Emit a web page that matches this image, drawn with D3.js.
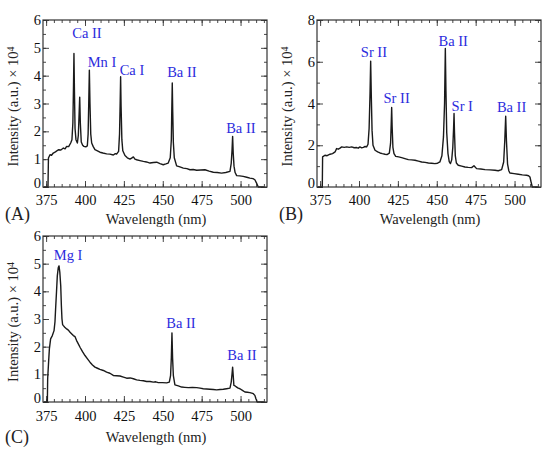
<!DOCTYPE html>
<html>
<head>
<meta charset="utf-8">
<script src="https://cdn.jsdelivr.net/npm/d3@7"></script>
<style>
  body { margin: 0; background: #fff; }
  svg text { font-family: "Liberation Serif", "Times New Roman", "DejaVu Serif", serif; }
</style>
</head>
<body>
<div id="chart"></div>
<script>
// spectra: [wavelength nm, intensity x 10^4]
var specA = [[373.5,0],[376.2,0],[376.5,1.04],[377.5,1.16],[378.5,1.14],[379.6,1.22],[381,1.26],[382.9,1.34],[384.5,1.33],[386.1,1.4],[387.2,1.37],[388.2,1.46],[389.5,1.45],[390.8,1.58],[391.6,1.7],[392.2,2.3],[392.6,3.6],[392.9,4.8],[393.2,3.5],[393.6,2.1],[394.2,1.7],[395.1,1.58],[395.7,1.85],[396.2,2.6],[396.6,3.23],[397,2.3],[397.6,1.62],[398.5,1.5],[399.3,1.46],[400.5,1.44],[401.5,1.48],[402,1.9],[402.4,3],[402.8,4.2],[403.2,3],[403.7,1.9],[404.3,1.58],[405.3,1.45],[406.4,1.34],[408,1.3],[409.6,1.25],[411.5,1.22],[413.9,1.19],[416,1.18],[418.2,1.15],[419.5,1.2],[420.3,1.18],[421.6,1.28],[422.2,1.9],[422.6,3],[422.9,3.96],[423.2,2.9],[423.7,1.7],[424.3,1.3],[425.7,1.13],[427.2,1.05],[428.9,1],[430,1.04],[431.1,1.08],[432.1,1],[433.2,0.98],[435.3,0.95],[437.5,0.92],[439.5,0.9],[441.8,0.86],[444,0.88],[446.1,0.89],[448.2,0.84],[450.3,0.8],[452,0.83],[453.5,0.86],[454.8,1.05],[455.5,1.7],[455.8,2.8],[456.1,3.74],[456.4,2.7],[456.8,1.6],[457.4,1.05],[458.9,0.76],[461,0.72],[463.2,0.68],[465.5,0.66],[467.5,0.62],[469.5,0.63],[471.8,0.6],[474.5,0.61],[477.1,0.62],[479.8,0.57],[482.5,0.53],[485,0.52],[487.8,0.5],[490.5,0.52],[493.2,0.56],[494,0.85],[494.5,1.3],[494.9,1.82],[495.3,1.2],[495.8,0.75],[496.5,0.52],[497.5,0.41],[499.5,0.4],[501.7,0.38],[504,0.35],[506,0.32],[508,0.3],[509.2,0.26],[510.2,0.15],[511.4,0],[515,0]];

var specB = [[373.5,0],[376.4,0],[376.6,1.44],[378.1,1.52],[379.5,1.5],[381.4,1.57],[383,1.6],[384.6,1.68],[385.6,1.84],[386.7,1.81],[387.8,1.86],[388.9,1.92],[390.5,1.9],[392.1,1.92],[393.7,1.9],[395.3,1.92],[396.9,1.88],[398.5,1.89],[399.5,1.86],[400.6,1.92],[401.7,1.88],[402.8,1.9],[403.9,1.94],[404.9,1.92],[405.8,2.05],[406.5,2.8],[407.1,4.5],[407.5,6.03],[407.9,4.4],[408.4,2.7],[409,2],[410.3,1.76],[412,1.68],[413.5,1.63],[415,1.6],[416.7,1.57],[418,1.55],[419.5,1.62],[420.3,2.1],[420.7,3],[421,3.81],[421.3,2.9],[421.8,1.9],[422.5,1.6],[423.6,1.47],[425.5,1.44],[427.4,1.41],[429.5,1.36],[431.7,1.31],[433.8,1.3],[436,1.28],[438.2,1.24],[440.3,1.2],[442.5,1.18],[444.6,1.15],[446.7,1.14],[448.8,1.12],[450.5,1.14],[452,1.2],[453.3,1.5],[454.3,2.4],[455,4],[455.5,6.64],[455.9,4.6],[456.4,2.6],[457.2,1.6],[458,1.22],[458.8,1.12],[459.6,1.3],[460.3,1.9],[460.8,2.8],[461.1,3.52],[461.4,2.6],[461.9,1.5],[462.6,1.15],[463.8,1.04],[466,1],[468.1,0.96],[470.2,0.94],[472.4,0.93],[473.9,1.02],[475.6,0.88],[478.3,0.86],[481,0.83],[484.2,0.82],[487.4,0.8],[489.5,0.78],[491.7,0.83],[493,1.2],[493.7,2.2],[494.3,3.39],[494.8,2.2],[495.5,1.1],[496.3,0.78],[497,0.67],[499.7,0.64],[502.4,0.61],[505,0.58],[507.7,0.56],[509,0.54],[509.9,0.48],[510.6,0.25],[511.4,0],[515,0]];

var specC = [[373.5,0],[375.8,0],[376,0.84],[376.6,1.45],[377.1,1.92],[377.9,2.28],[379,2.4],[380.1,2.58],[380.7,2.9],[381.1,3.36],[381.7,4],[382.2,4.56],[382.8,4.85],[383.3,4.92],[383.8,4.7],[384.4,4.2],[384.8,3.5],[385.2,3],[385.6,2.8],[386.1,2.76],[387,2.7],[388.2,2.64],[389.3,2.6],[390.4,2.52],[391.5,2.46],[392.5,2.4],[393.6,2.36],[394.6,2.22],[395.7,2.1],[396.8,1.98],[398.4,1.82],[400,1.68],[401.6,1.56],[403.2,1.44],[404.8,1.34],[406.4,1.26],[408,1.22],[409.6,1.18],[411.8,1.14],[413.9,1.08],[416,1.04],[418.2,0.96],[420.3,0.95],[422.5,0.94],[424.7,0.9],[426.8,0.86],[429,0.87],[431.1,0.84],[433.2,0.8],[435.3,0.78],[437.5,0.77],[439.6,0.74],[441.8,0.74],[443.9,0.72],[445.5,0.73],[447.1,0.7],[449.8,0.7],[452.5,0.69],[454.2,0.72],[455,0.95],[455.5,1.6],[455.9,2.5],[456.3,1.6],[456.8,0.95],[457.8,0.62],[460,0.58],[462.1,0.54],[464.2,0.53],[466.4,0.52],[469,0.53],[471.8,0.52],[474,0.5],[476,0.48],[478.2,0.47],[480.3,0.46],[482.5,0.45],[484.6,0.44],[486.8,0.45],[488.9,0.46],[491,0.48],[493.2,0.5],[494,0.72],[494.5,1],[494.9,1.26],[495.3,0.95],[495.7,0.6],[496.5,0.58],[497.5,0.54],[498.5,0.5],[499.6,0.48],[501.2,0.42],[502.8,0.36],[504.4,0.35],[506,0.34],[507.2,0.32],[508.2,0.3],[509.2,0.24],[509.9,0.12],[510.7,0],[515,0]];

// line labels: [text, wavelength, intensity]
var labelsA = [["Ca II",401.3,5.52],["Mn I",410.9,4.51],["Ca I",430.2,4.22],["Ba II",462.3,4.15],["Ba II",500.2,2.14]];
var labelsB = [["Sr II",409.6,6.47],["Sr II",424.2,4.27],["Ba II",460.6,7.0],["Sr I",466.4,3.88],["Ba II",498.1,3.84]];
var labelsC = [["Mg I",389.1,5.32],["Ba II",461.7,2.85],["Ba II",500.9,1.69]];

var xTicks = [375, 400, 425, 450, 475, 500];
var yTicksAC = [0, 1, 2, 3, 4, 5, 6];
var yTicksB = [0, 2, 4, 6, 8];

var xDomain = [373, 517];
var serif = '"Liberation Serif", "Times New Roman", "DejaVu Serif", serif';

var svg = d3.select("#chart").append("svg")
    .attr("width", 554)
    .attr("height", 455);

var panels = [
    {tag: "(A)", spec: specA, labels: labelsA, yMax: 6, yTicks: yTicksAC, yMinor: 0.5, left: 43, top: 20, width: 224, height: 167, pad: 8, titleOff: 37, tagOff: 33},
    {tag: "(B)", spec: specB, labels: labelsB, yMax: 8, yTicks: yTicksB, yMinor: 1, left: 317, top: 20, width: 224, height: 167, pad: 8, titleOff: 37, tagOff: 33},
    {tag: "(C)", spec: specC, labels: labelsC, yMax: 6, yTicks: yTicksAC, yMinor: 0.5, left: 43, top: 236, width: 224, height: 166, pad: 9, titleOff: 40, tagOff: 41}
];

function drawPanel(p) {
    var g = svg.append("g")
        .attr("transform", "translate(" + p.left + "," + p.top + ")");

    var x = d3.scaleLinear().domain(xDomain).range([0, p.width]);
    var y = d3.scaleLinear().domain([0, p.yMax]).range([p.height, 0]);

    var xMinor = d3.range(375, 516, 5);
    var yMinor = d3.range(0, p.yMax + 0.01, p.yMinor);

    // minor ticks, all four sides
    g.append("g").attr("transform", "translate(0," + p.height + ")")
        .call(d3.axisBottom(x).tickValues(xMinor).tickSize(-3).tickFormat(""));
    g.append("g")
        .call(d3.axisTop(x).tickValues(xMinor).tickSize(-3).tickFormat(""));
    g.append("g")
        .call(d3.axisLeft(y).tickValues(yMinor).tickSize(-3).tickFormat(""));
    g.append("g").attr("transform", "translate(" + p.width + ",0)")
        .call(d3.axisRight(y).tickValues(yMinor).tickSize(-3).tickFormat(""));

    // major ticks
    g.append("g").attr("transform", "translate(0," + p.height + ")")
        .call(d3.axisBottom(x).tickValues(xTicks).tickSize(-6).tickPadding(p.pad).tickFormat(d3.format("d")));
    g.append("g")
        .call(d3.axisTop(x).tickValues(xTicks).tickSize(-6).tickFormat(""));
    var gy = g.append("g")
        .call(d3.axisLeft(y).tickValues(p.yTicks).tickSize(-6).tickPadding(2).tickFormat(d3.format("d")));
    g.append("g").attr("transform", "translate(" + p.width + ",0)")
        .call(d3.axisRight(y).tickValues(p.yTicks).tickSize(-6).tickFormat(""));

    // the zero label sits a little above the corner
    gy.selectAll(".tick text").filter(function (d) { return d === 0; }).attr("dy", "0.02em");

    g.selectAll(".domain").remove();
    g.selectAll(".tick line").attr("stroke", "#333").attr("stroke-width", 0.9);
    g.selectAll(".tick text")
        .attr("fill", "#111")
        .attr("font-family", serif)
        .attr("font-size", 14.5);

    // spectrum
    var line = d3.line()
        .x(function (d) { return x(d[0]); })
        .y(function (d) { return y(d[1]); });

    g.append("path")
        .datum(p.spec)
        .attr("fill", "none")
        .attr("stroke", "#1a1a1a")
        .attr("stroke-width", 1.4)
        .attr("stroke-linejoin", "round")
        .attr("d", line);

    // frame
    g.append("rect")
        .attr("width", p.width)
        .attr("height", p.height)
        .attr("fill", "none")
        .attr("stroke", "#333")
        .attr("stroke-width", 1.2);

    // line labels
    g.selectAll(".lbl")
        .data(p.labels)
        .enter()
        .append("text")
        .attr("class", "lbl")
        .attr("x", function (d) { return x(d[1]); })
        .attr("y", function (d) { return y(d[2]); })
        .attr("dy", "0.35em")
        .attr("text-anchor", "middle")
        .attr("fill", "#2b2bdd")
        .attr("font-family", serif)
        .attr("font-size", 14.5)
        .text(function (d) { return d[0]; });

    // axis titles
    g.append("text")
        .attr("x", p.width / 2 + 1)
        .attr("y", p.height + p.titleOff)
        .attr("text-anchor", "middle")
        .attr("fill", "#222")
        .attr("font-family", serif)
        .attr("font-size", 14.5)
        .text("Wavelength (nm)");

    var yt = g.append("text")
        .attr("transform", "translate(-25," + (p.height / 2 + 3) + ") rotate(-90)")
        .attr("text-anchor", "middle")
        .attr("fill", "#222")
        .attr("font-family", serif)
        .attr("font-size", 14.5);
    yt.append("tspan").text("Intensity (a.u.) \u00d7 10");
    yt.append("tspan").attr("dy", "-0.45em").attr("font-size", 10).text("4");

    g.append("text")
        .attr("x", -38)
        .attr("y", p.height + p.tagOff)
        .attr("fill", "#222")
        .attr("font-family", serif)
        .attr("font-size", 18)
        .text(p.tag);
}

panels.forEach(drawPanel);
</script>
</body>
</html>
